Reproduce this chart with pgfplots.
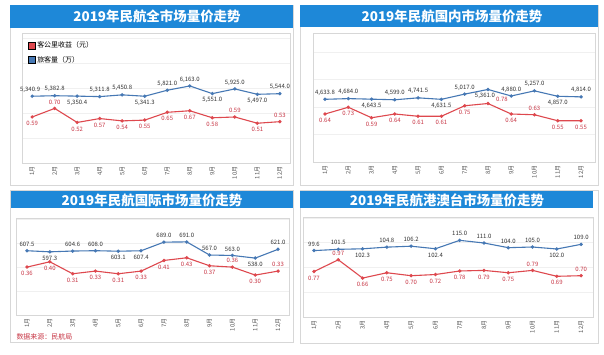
\documentclass[border=0pt]{standalone}
\usepackage{pgfplots}
\pgfplotsset{compat=1.18}
\usepackage{fontspec}
\setmainfont{Noto Sans CJK SC}
\definecolor{banner}{RGB}{30,136,216}
\definecolor{redL}{RGB}{222,72,78}
\definecolor{redT}{RGB}{200,55,70}
\definecolor{blueL}{RGB}{70,120,180}
\definecolor{labT}{RGB}{50,50,50}
\definecolor{frameC}{RGB}{215,215,215}
\pgfplotsset{
  panel/.style={scale only axis, clip=false, anchor=south west,
    xtick={1,...,12}, xticklabels={1月,2月,3月,4月,5月,6月,7月,8月,9月,10月,11月,12月},
    xticklabel style={rotate=90, anchor=east, font=\fontsize{6}{6}\selectfont, text=gray!70!black},
    xtick style={draw=none}, ytick style={draw=none}, yticklabel=\empty,
    ymajorgrids, grid style={gray!12}, axis line style={frameC}, ymin=0},
  blueax/.style={scale only axis, clip=false, anchor=south west, hide axis, ymin=0},
  redplot/.style={redL, line width=1.1pt, mark=*, mark size=1.1pt, mark options={fill=redL, draw=redL},
    nodes near coords, visualization depends on={value \thisrow{p} \as \lp},
    visualization depends on={value \thisrow{q} \as \lq},
    every node near coord/.append style={anchor=center, yshift=\lp*6.5bp, xshift=\lq*1bp, font=\fontsize{6}{6}\selectfont, text=redT, inner sep=0pt},
    /pgf/number format/fixed, /pgf/number format/fixed zerofill, /pgf/number format/precision=2,
    /pgf/number format/assume math mode=true},
  blueplot/.style={blueL, line width=1.1pt, mark=*, mark size=1.1pt, mark options={fill=blueL, draw=blueL},
    nodes near coords, visualization depends on={value \thisrow{p} \as \lp},
    visualization depends on={value \thisrow{q} \as \lq},
    every node near coord/.append style={anchor=center, yshift=\lp*6.5bp, xshift=\lq*1bp, font=\fontsize{6}{6}\selectfont, text=labT, inner sep=0pt},
    /pgf/number format/fixed, /pgf/number format/fixed zerofill, /pgf/number format/precision=1,
    /pgf/number format/1000 sep={,}, /pgf/number format/assume math mode=true},
}
\begin{document}
\begin{tikzpicture}
\useasboundingbox[fill=white] (0,0) rectangle (604bp,-355bp);
% frames and banners
\draw[frameC] (10bp,-5bp) rectangle (293bp,-185bp);
\draw[frameC] (300bp,-5bp) rectangle (598bp,-185bp);
\draw[frameC] (10bp,-190bp) rectangle (293bp,-342bp);
\draw[frameC] (300bp,-190bp) rectangle (598bp,-343bp);
\fill[banner] (10bp,-5bp) rectangle (293bp,-28bp);
\fill[banner] (300bp,-5bp) rectangle (598bp,-27bp);
\fill[banner] (11bp,-191bp) rectangle (293bp,-208bp);
\fill[banner] (300bp,-191bp) rectangle (593bp,-208bp);
\node[text=white, font=\fontsize{13.5}{14}\selectfont\bfseries] at (157bp,-16.5bp) {2019年民航全市场量价走势};
\node[text=white, font=\fontsize{13.5}{14}\selectfont\bfseries] at (452bp,-16bp) {2019年民航国内市场量价走势};
\node[text=white, font=\fontsize{13.5}{14}\selectfont\bfseries] at (152bp,-200bp) {2019年民航国际市场量价走势};
\node[text=white, font=\fontsize{13.5}{14}\selectfont\bfseries] at (447bp,-200bp) {2019年民航港澳台市场量价走势};
\node[anchor=west, text=redT, font=\fontsize{7}{7}\selectfont] at (13bp,-337bp) {数据来源：民航局};

% ---------- Panel 1 ----------
\begin{axis}[panel, at={(22bp,-163bp)}, width=268bp, height=130bp, xmin=0.55, xmax=12.45, ymax=1.667,
  ytick={0.32,0.64,0.96,1.28,1.6}]
\addplot[redplot] table[x=x,y=y]{
x y p q
1 0.59 -1 0
2 0.70 1 0
3 0.52 -1 0
4 0.57 -1 0
5 0.54 -1 0
6 0.55 -1 0
7 0.65 -1 0
8 0.67 -1 0
9 0.58 -1 0
10 0.59 1 0
11 0.51 -1 0
12 0.53 1 0
};
\end{axis}
\begin{axis}[blueax, at={(22bp,-163bp)}, width=268bp, height=130bp, xmin=0.55, xmax=12.45, ymax=10400,
  legend style={at={(0.01,0.965)}, anchor=north west, draw=none, fill=none, font=\fontsize{7}{7}\selectfont, row sep=3pt},
  legend cell align=left,
  legend image code/.code={\fill[#1] (0bp,-3.5bp) rectangle (7bp,3.5bp);}]
\addlegendimage{fill=redL}
\addlegendentry{客公里收益（元）}
\addlegendimage{fill=blueL}
\addlegendentry{旅客量（万）}
\addplot[blueplot, forget plot] table[x=x,y=y]{
x y p q
1 5340.9 1 -2
2 5382.8 1 0
3 5350.4 -1 0
4 5311.8 1 0
5 5450.8 1 0
6 5341.3 -1 0
7 5821.0 1 0
8 6163.0 1 0
9 5551.0 -1 0
10 5925.0 1 0
11 5497.0 -1 0
12 5544.0 1 0
};
\end{axis}

% ---------- Panel 2 ----------
\begin{axis}[panel, at={(313bp,-162bp)}, width=282bp, height=129bp, xmin=0.484, xmax=12.6, ymax=1.72,
  ytick={0.367,0.733,1.1,1.467}]
\addplot[redplot] table[x=x,y=y]{
x y p q
1 0.64 -1 0
2 0.73 -1 0
3 0.59 -1 0
4 0.64 -1 0
5 0.61 -1 0
6 0.61 -1 0
7 0.75 -1 0
8 0.78 0.7 14
9 0.64 -1 0
10 0.63 1 0
11 0.55 -1 0
12 0.55 -1 0
};
\end{axis}
\begin{axis}[blueax, at={(313bp,-162bp)}, width=282bp, height=129bp, xmin=0.484, xmax=12.6, ymax=9533]
\addplot[blueplot] table[x=x,y=y]{
x y p q
1 4633.8 1 0
2 4684.0 1 0
3 4643.5 -1 0
4 4599.0 1 0
5 4741.5 1 0
6 4631.5 -1 0
7 5017.0 1 0
8 5361.0 -1 -3
9 4880.0 1 0
10 5257.0 1 0
11 4857.0 -1 0
12 4814.0 1 0
};
\end{axis}

% ---------- Panel 3 ----------
\begin{axis}[panel, at={(16bp,-315bp)}, width=273bp, height=97bp, xmin=0.518, xmax=12.48, ymax=0.729,
  ytick={0.18,0.36,0.54,0.72}]
\addplot[redplot] table[x=x,y=y]{
x y p q
1 0.36 -1 0
2 0.40 -1 0
3 0.31 -1 0
4 0.33 -1 0
5 0.31 -1 0
6 0.33 -1 0
7 0.41 -1 0
8 0.43 -1 0
9 0.37 -1 0
10 0.36 1 0
11 0.30 -1 0
12 0.33 1 0
};
\end{axis}
\begin{axis}[blueax, at={(16bp,-315bp)}, width=273bp, height=97bp, xmin=0.518, xmax=12.48, ymax=917]
\addplot[blueplot] table[x=x,y=y]{
x y p q
1 607.5 1 0
2 597.3 -1 0
3 604.6 1 0
4 608.0 1 0
5 603.1 -1 0
6 607.4 -1 0
7 689.0 1 0
8 691.0 1 0
9 567.0 1 0
10 563.0 1 0
11 538.0 -1 0
12 621.0 1 0
};
\end{axis}

% ---------- Panel 4 ----------
\begin{axis}[panel, at={(303bp,-317bp)}, width=290bp, height=100bp, xmin=0.547, xmax=12.49, ymax=1.695,
  ytick={0.42,0.84,1.26,1.68}]
\addplot[redplot] table[x=x,y=y]{
x y p q
1 0.77 -1 0
2 0.97 1 0
3 0.66 -1 0
4 0.75 -1 0
5 0.70 -1 0
6 0.72 -1 0
7 0.78 -1 0
8 0.79 -1 0
9 0.75 -1 0
10 0.79 1 0
11 0.69 -1 0
12 0.70 1 0
};
\end{axis}
\begin{axis}[blueax, at={(303bp,-317bp)}, width=290bp, height=100bp, xmin=0.547, xmax=12.49, ymax=150]
\addplot[blueplot] table[x=x,y=y]{
x y p q
1 99.6 1 0
2 101.5 1 0
3 102.3 -1 0
4 104.8 1 0
5 106.2 1 0
6 102.4 -1 0
7 115.0 1 0
8 111.0 1 0
9 104.0 1 0
10 105.0 1 0
11 102.0 -1 0
12 109.0 1 0
};
\end{axis}
\end{tikzpicture}
\end{document}
